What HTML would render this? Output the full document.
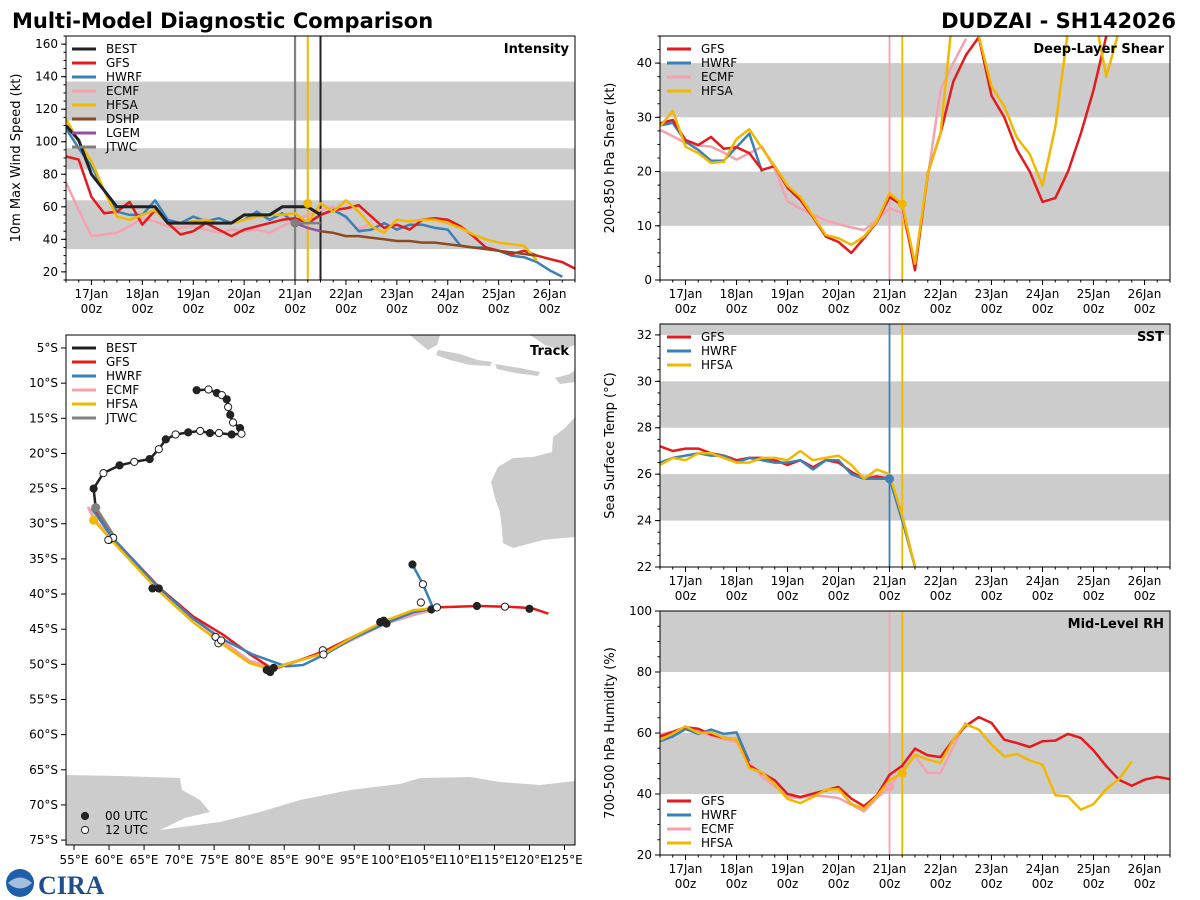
<!DOCTYPE html>
<html><head><meta charset="utf-8">
<style>
html,body{margin:0;padding:0;background:#fff;}
svg{display:block;font-family:"DejaVu Sans","Liberation Sans",sans-serif;}
</style></head>
<body>
<svg id="chart" width="1200" height="900" viewBox="0 0 1200 900" xmlns="http://www.w3.org/2000/svg">
<rect width="1200" height="900" fill="#fff"/>
<text x="12" y="28" font-size="21" font-weight="bold">Multi-Model Diagnostic Comparison</text>
<text x="1176" y="28" font-size="21" font-weight="bold" text-anchor="end">DUDZAI - SH142026</text>
<g>
<circle cx="20" cy="883" r="14" fill="#1d5fa8"/>
<path d="M8 883 Q20 872 32 883 Q20 894 8 883Z" fill="#fff" opacity="0.6"/>
<text x="38" y="894" font-size="26" font-weight="bold" fill="#1f4e8c" font-family="Liberation Serif, serif">CIRA</text>
</g>
<g id="root"></g>
</svg>
<script>
// ---------- data ----------
const intensityBEST = [110,101,80,70,60,60,60,60,50,50,50,50,50,50,55,55,55,60,60,60,55];
const intensityGFS = [91,89,66,56,57,63,49,58,50,43,45,50,46,42,46,48,50,52,53,50,55,58,59,61,54,47,49,46,52,53,52,48,42,35,33,31,33,30,28,26,22];
const intensityHWRF = [108,96,85,70,57,55,55,64,52,50,54,51,53,50,52,57,52,56,50,50,55,58,54,45,46,50,46,49,49,47,46,36,35,35,33,30,29,26,21,17];
const intensityECMF = [75,58,42,43,44,48,53,51,48,47,48,46,44,46,45,46,44,48,52,55,58,60,53,46,50];
const intensityHFSA = [114,100,88,70,54,52,55,58,50,50,51,52,50,50,52,54,55,55,56,50,62,57,64,57,48,44,52,51,52,52,50,47,43,40,38,37,36,27];
const intensityDSHP = [45,44,42,42,41,40,39,39,38,38,37,36,35,34,33,32,31,30];
const intensityLGEM = [50,47,45];
const intensityJTWC = [50,50,50];
const shearGFS = [28.9,29.5,25.8,24.9,26.4,24.2,24.5,23.4,20.3,21,17,14.8,11.6,8,7,5,7.7,10.7,15.3,13.8,1.8,19.7,27,36.6,41.5,44.8,34,30,24,20,14.4,15.1,20,27,35,45,52,58,62,65,66];
const shearHWRF = [28.5,29,25.5,24,22,22,24.5,27,20];
const shearECMF = [27.7,26.5,25.3,24.8,24.6,23.5,22.2,23.4,24.6,20.4,14.5,13.2,12,11,10.3,9.7,9.2,11,13.2,12.3,3,19,35,40,44.5];
const shearHFSA = [28.3,31.2,24.6,23.4,21.6,21.8,26,27.8,24.3,21,17.4,15.3,11.8,8.3,7.7,6.5,8,10.8,16,14,3,19.7,27,50,55,45,35.7,32,26.2,23.2,17.4,28.2,46,55,50,37.5,46,52];
const sstGFS = [27.2,27.0,27.1,27.1,26.9,26.8,26.6,26.7,26.7,26.6,26.4,26.6,26.3,26.6,26.5,26.1,25.8,25.9,25.8];
const sstHWRF = [26.5,26.7,26.8,26.9,26.8,26.8,26.5,26.7,26.6,26.5,26.5,26.6,26.2,26.6,26.6,26.0,25.8,25.8,25.8,24.0,22.0];
const sstHFSA = [26.4,26.7,26.6,26.9,26.9,26.7,26.5,26.5,26.7,26.7,26.6,27.0,26.6,26.7,26.8,26.4,25.8,26.2,26.0,24.2,22.0,21.0];
const rhGFS = [58.9,60.3,61.9,61.4,59.5,58.4,58,49.3,46.9,44.5,40,39,40.1,41.2,42.3,38.5,36,39.5,46.3,49.3,54.9,52.7,52.1,57.8,62.4,65.2,63.3,57.8,56.7,55.4,57.3,57.5,59.7,58.4,54.3,49.1,44.7,42.7,44.7,45.6,44.9];
const rhHWRF = [57.3,58.9,61.3,59.7,61.1,59.7,60.2,50.7];
const rhECMF = [59.5,60.5,61.9,60.5,59.2,58,57,50.4,45.6,42.5,39,38.7,39.5,39.2,38.7,36.5,34.3,38.7,42.3,48,52.5,46.9,46.9,55.6,63.5];
const rhHFSA = [57.8,59.8,62.2,60,60.2,58.4,58,48.5,47.1,43.1,38.4,37,39,41.4,41.6,36.8,35.1,39.2,44.5,46.9,52.9,51.3,50.2,57.8,62.9,61.1,56.2,52.3,53.1,51,49.6,39.6,39.2,34.9,36.7,41.6,44.9,50.7];
const dayLabels = ["17Jan","18Jan","19Jan","20Jan","21Jan","22Jan","23Jan","24Jan","25Jan","26Jan"];
const trackBESTlon = [72.5,74.2,75.4,76.1,76.8,77.0,77.3,77.7,78.7,78.9,77.5,75.7,74.4,73.0,71.3,69.5,68.1,67.1,65.8,63.6,61.5,59.2,57.8,58.1];
const trackBESTlat = [11.0,10.9,11.4,11.7,12.3,13.4,14.5,15.6,16.4,17.2,17.3,17.1,17.1,16.8,17.0,17.3,18.0,19.4,20.8,21.2,21.7,22.8,25.0,27.7];
const trackJTWClon = [58.1,60.6];
const trackJTWClat = [27.7,31.6];
const trackGFSlon = [58,60.5,67.3,72,76.3,80,83.4,87,91,95,99.4,103.4,106.7,112.7,116.7,120.3,122.7];
const trackGFSlat = [28.2,32,39.2,43.2,45.8,48.5,50.7,49.5,48.0,46,44.0,42.5,41.9,41.7,41.8,42.0,42.8];
const trackHWRFlon = [57.5,60.5,67,72,76,80.5,85.3,87.7,91,95,99.4,103.4,106.3,104.8,103.3];
const trackHWRFlat = [27.8,32,39,43.5,46.3,48.6,50.3,50.1,48.5,46.2,44.2,42.6,42.1,38.6,35.8];
const trackECMFlon = [57,58,60.5,67,72,76,80,83.4,91,99.4,104,106];
const trackECMFlat = [27.6,29.5,32.3,39.3,43.5,46.5,49.5,50.5,48.3,44.2,42.8,42.3];
const trackHFSAlon = [57.8,60.5,67,72,76,80,83,87,91,95,99.4,103.4,106.5];
const trackHFSAlat = [29.5,32.5,39.5,44,47,49.8,50.7,49.5,48.3,46,43.8,42.3,42.0];
const fcstMarkLon = [60,60.6,59.9,66.2,67.1,75.2,75.6,76.0,82.5,83.0,83.5,90.5,90.6,98.7,99.2,99.6,106.0,106.8,112.5,116.5,120.0,104.8,103.3,104.5];
const fcstMarkLat = [32.3,32.0,32.3,39.2,39.2,46.1,47.0,46.6,50.8,51.1,50.5,48.0,48.6,44.0,43.8,44.2,42.2,41.9,41.7,41.8,42.1,38.6,35.8,41.2];
const fcstMarkFilled = [0,0,0,1,1,0,0,0,1,1,1,0,0,1,1,1,1,0,1,0,1,0,1,0];
const C = {BEST:"#222222",GFS:"#e41a1c",HWRF:"#3a80b9",ECMF:"#f4a3ae",HFSA:"#f1b800",DSHP:"#8b4a22",LGEM:"#954ea0",JTWC:"#808080"};

// ---------- helpers ----------
const NS="http://www.w3.org/2000/svg";
const root=document.getElementById('root');
function mk(parent,tag,attrs,name,inter){
  const el=document.createElementNS(NS,tag);
  for(const k in attrs) el.setAttribute(k,attrs[k]);
  
  
  parent.appendChild(el);
  return el;
}
function txt(parent,x,y,s,name,opt){
  const t=mk(parent,'text',Object.assign({x:x,y:y,'font-size':12},opt||{}),name,false);
  t.textContent=s;return t;
}
const T0=16.5,T1=26.5;
function makePanel(id,P){
  P.g=mk(root,'g',{},id,false);
  const cp=mk(P.g,'clipPath',{id:'clip-'+id},id+'-clip',false);
  mk(cp,'rect',{x:P.x0,y:P.y0,width:P.x1-P.x0,height:P.y1-P.y0},id+'-clip-rect',false);
  P.tx=t=>P.x0+(t-T0)*(P.x1-P.x0)/(T1-T0);
  P.vy=v=>P.y1-(v-P.vmin)*(P.y1-P.y0)/(P.vmax-P.vmin);
  P.c=mk(P.g,'g',{'clip-path':'url(#clip-'+id+')'},id+'-plot-area',false);
  return P;
}
function bands(P,list){
  list.forEach(b=>{
    mk(P.c,'rect',{x:P.x0,y:P.vy(b[1]),width:P.x1-P.x0,height:P.vy(b[0])-P.vy(b[1]),fill:'#cccccc'},'threshold-band',false);
  });
}
function series(P,vals,color,name,w){
  const pts=vals.map((v,i)=>P.tx(T0+i*0.25).toFixed(1)+','+P.vy(v).toFixed(1)).join(' ');
  mk(P.c,'polyline',{points:pts,fill:'none',stroke:color,'stroke-width':w||2.5,'stroke-linejoin':'round'},name,false);
}
function seriesAt(P,vals,start,color,name){
  const pts=vals.map((v,i)=>P.tx(start+i*0.25).toFixed(1)+','+P.vy(v).toFixed(1)).join(' ');
  mk(P.c,'polyline',{points:pts,fill:'none',stroke:color,'stroke-width':2.5},name,false);
}
function vline(P,t,color,name,w){
  mk(P.c,'line',{x1:P.tx(t),x2:P.tx(t),y1:P.y0,y2:P.y1,stroke:color,'stroke-width':w||1.8},name,false);
}
function dot(P,t,v,color,name){
  mk(P.c,'circle',{cx:P.tx(t),cy:P.vy(v),r:4.5,fill:color},name,false);
}
function frameAxes(P,yticks,minorStep,ylabel,title,timeLabels){
  mk(P.g,'rect',{x:P.x0,y:P.y0,width:P.x1-P.x0,height:P.y1-P.y0,fill:'none',stroke:'#000','stroke-width':1},'plot-frame',false);
  yticks.forEach(v=>{
    const y=P.vy(v);
    mk(P.g,'line',{x1:P.x0-5,x2:P.x0,y1:y,y2:y,stroke:'#000'},'y-tick',false);
    txt(P.g,P.x0-8,y+4,String(v),'y-tick-label',{'text-anchor':'end'});
  });
  for(let v=Math.ceil(P.vmin/minorStep)*minorStep;v<=P.vmax;v+=minorStep){
    const y=P.vy(v);
    mk(P.g,'line',{x1:P.x0-2.5,x2:P.x0,y1:y,y2:y,stroke:'#000'},'y-minor-tick',false);
  }
  for(let t=T0;t<=T1+0.01;t+=0.25){
    const x=P.tx(t);const major=Math.abs(t-Math.round(t))<0.01;
    mk(P.g,'line',{x1:x,x2:x,y1:P.y1,y2:P.y1+(major?5:2.5),stroke:'#000'},major?'x-tick':'x-minor-tick',false);
  }
  if(timeLabels){
    dayLabels.forEach((d,i)=>{
      const x=P.tx(17+i);
      txt(P.g,x,P.y1+18,d,'x-tick-label-day',{'text-anchor':'middle'});
      txt(P.g,x,P.y1+33,'00z','x-tick-label-hour',{'text-anchor':'middle'});
    });
  }
  const cy=(P.y0+P.y1)/2, lx=P.x0-46;
  txt(P.g,lx,cy,ylabel,'y-axis-title',{'text-anchor':'middle','font-size':13,transform:'rotate(-90 '+lx+' '+cy+')'});
  txt(P.g,P.x1-6,P.y0+17,title,'panel-title',{'text-anchor':'end','font-size':13,'font-weight':'bold'});
}
function legend(P,items,x,y){
  const g=mk(P.g,'g',{},'legend',false);
  items.forEach((it,i)=>{
    const yy=y+i*14;
    mk(g,'line',{x1:x,x2:x+24,y1:yy,y2:yy,stroke:C[it],'stroke-width':3},'legend-swatch-'+it.toLowerCase(),false);
    txt(g,x+34,yy+4,it,'legend-entry-'+it.toLowerCase(),{});
  });
}

// ---------- Intensity ----------
const P1=makePanel('intensity-panel',{x0:66,x1:575,y0:36,y1:280,vmin:15,vmax:165});
bands(P1,[[34,64],[83,96],[113,137]]);
vline(P1,21.0,'#808080','jtwc-init-line',2.2);
vline(P1,21.25,C.HFSA,'hfsa-init-line',2);
vline(P1,21.5,'#222','best-latest-line',2);
series(P1,intensityECMF,C.ECMF,'ecmf-intensity-line');
series(P1,intensityHWRF,C.HWRF,'hwrf-intensity-line');
series(P1,intensityGFS,C.GFS,'gfs-intensity-line');
series(P1,intensityHFSA,C.HFSA,'hfsa-intensity-line');
seriesAt(P1,intensityDSHP,21.5,C.DSHP,'dshp-intensity-line');
seriesAt(P1,intensityLGEM,21.0,C.LGEM,'lgem-intensity-line');
seriesAt(P1,intensityJTWC,21.0,C.JTWC,'jtwc-intensity-line');
series(P1,intensityBEST,C.BEST,'best-intensity-line',3);
dot(P1,21.25,intensityHFSA[19]+12,C.HFSA,'hfsa-init-dot');
dot(P1,21.0,intensityJTWC[0],C.JTWC,'jtwc-init-dot');
frameAxes(P1,[20,40,60,80,100,120,140,160],5,'10m Max Wind Speed (kt)','Intensity',true);
legend(P1,['BEST','GFS','HWRF','ECMF','HFSA','DSHP','LGEM','JTWC'],72,49);

// ---------- Shear ----------
const P2=makePanel('shear-panel',{x0:660,x1:1170,y0:36,y1:280,vmin:0,vmax:45});
bands(P2,[[10,20],[30,40]]);
vline(P2,21.0,C.ECMF,'ecmf-init-line');
vline(P2,21.25,C.HFSA,'hfsa-init-line');
series(P2,shearECMF,C.ECMF,'ecmf-shear-line');
series(P2,shearHWRF,C.HWRF,'hwrf-shear-line');
series(P2,shearGFS,C.GFS,'gfs-shear-line');
series(P2,shearHFSA,C.HFSA,'hfsa-shear-line');
dot(P2,21.25,shearHFSA[19],C.HFSA,'hfsa-init-dot');
frameAxes(P2,[0,10,20,30,40],2.5,'200-850 hPa Shear (kt)','Deep-Layer Shear',true);
legend(P2,['GFS','HWRF','ECMF','HFSA'],667,49);

// ---------- SST ----------
const P3=makePanel('sst-panel',{x0:660,x1:1170,y0:324,y1:567,vmin:22,vmax:32.47});
bands(P3,[[24,26],[28,30],[32,34]]);
vline(P3,21.0,C.HWRF,'hwrf-init-line');
vline(P3,21.25,C.HFSA,'hfsa-init-line');
series(P3,sstGFS,C.GFS,'gfs-sst-line');
series(P3,sstHWRF,C.HWRF,'hwrf-sst-line');
series(P3,sstHFSA,C.HFSA,'hfsa-sst-line');
dot(P3,21.0,sstHWRF[18],C.HWRF,'hwrf-init-dot');
frameAxes(P3,[22,24,26,28,30,32],0.5,'Sea Surface Temp (°C)','SST',true);
legend(P3,['GFS','HWRF','HFSA'],667,337);

// ---------- RH ----------
const P4=makePanel('rh-panel',{x0:660,x1:1170,y0:611,y1:855,vmin:20,vmax:100});
bands(P4,[[40,60],[80,100]]);
vline(P4,21.0,C.ECMF,'ecmf-init-line');
vline(P4,21.25,C.HFSA,'hfsa-init-line');
series(P4,rhECMF,C.ECMF,'ecmf-rh-line');
series(P4,rhHWRF,C.HWRF,'hwrf-rh-line');
series(P4,rhGFS,C.GFS,'gfs-rh-line');
series(P4,rhHFSA,C.HFSA,'hfsa-rh-line');
dot(P4,21.0,rhECMF[18],C.ECMF,'ecmf-init-dot');
dot(P4,21.25,rhHFSA[19],C.HFSA,'hfsa-init-dot');
frameAxes(P4,[20,40,60,80,100],5,'700-500 hPa Humidity (%)','Mid-Level RH',true);
legend(P4,['GFS','HWRF','ECMF','HFSA'],667,801);

// ---------- Track map ----------
const M={x0:66,x1:575,y0:335,y1:845,lon0:53.86,lon1:126.5,lat0:3.15,lat1:75.7};
M.lx=l=>M.x0+(l-M.lon0)*(M.x1-M.x0)/(M.lon1-M.lon0);
M.ly=l=>M.y0+(l-M.lat0)*(M.y1-M.y0)/(M.lat1-M.lat0);
M.g=mk(root,'g',{},'track-panel',false);
const mcp=mk(M.g,'clipPath',{id:'clip-map'},'track-clip',false);
mk(mcp,'rect',{x:M.x0,y:M.y0,width:M.x1-M.x0,height:M.y1-M.y0},'track-clip-rect',false);
M.c=mk(M.g,'g',{'clip-path':'url(#clip-map)'},'map-area',false);
mk(M.c,'polygon',{points:'575,417 565,428 553,437 552,452 533,457 513,458 498,467 491,482 495,498 500,512 502,530 503,543 513,548 543,540 563,538 575,537',fill:'#cccccc'},'australia-landmass',false);
mk(M.c,'polygon',{points:'410,335 440,335 437,345 428,350 418,342',fill:'#cccccc'},'sumatra-landmass',false);
mk(M.c,'polygon',{points:'438,350 460,354 478,360 492,362 490,366 470,365 450,360 436,355',fill:'#cccccc'},'java-landmass',false);
mk(M.c,'polygon',{points:'495,364 520,368 540,372 538,376 515,373 497,369',fill:'#cccccc'},'lesser-sunda-landmass',false);
mk(M.c,'polygon',{points:'530,335 575,335 575,345 560,350 545,345',fill:'#cccccc'},'borneo-landmass',false);
mk(M.c,'polygon',{points:'555,378 570,374 575,370 575,382 560,384',fill:'#cccccc'},'timor-landmass',false);
mk(M.c,'polygon',{points:'66,775 120,776 180,778 182,790 200,800 210,812 185,818 160,830 220,822 260,812 300,800 350,790 400,784 420,778 470,777 500,782 540,785 575,781 575,845 66,845',fill:'#cccccc'},'antarctica-landmass',false);
function track(lons,lats,color,name,w){
  const pts=lons.map((l,i)=>M.lx(l).toFixed(1)+','+M.ly(lats[i]).toFixed(1)).join(' ');
  mk(M.c,'polyline',{points:pts,fill:'none',stroke:color,'stroke-width':w||2.5,'stroke-linejoin':'round'},name,false);
}
track(trackECMFlon,trackECMFlat,C.ECMF,'ecmf-track',3);
track(trackGFSlon,trackGFSlat,C.GFS,'gfs-track');
track(trackHWRFlon,trackHWRFlat,C.HWRF,'hwrf-track');
track(trackHFSAlon,trackHFSAlat,C.HFSA,'hfsa-track');
track(trackJTWClon,trackJTWClat,C.JTWC,'jtwc-track',3);
track(trackBESTlon,trackBESTlat,C.BEST,'best-track',2.5);
trackBESTlon.forEach((l,i)=>{
  const filled=(i%2===0);
  mk(M.c,'circle',{cx:M.lx(l),cy:M.ly(trackBESTlat[i]),r:3.6,fill:filled?'#222':'#fff',stroke:'#222','stroke-width':1},filled?'best-00utc-marker':'best-12utc-marker',false);
});
mk(M.c,'circle',{cx:M.lx(58.1),cy:M.ly(27.7),r:4.5,fill:C.JTWC},'jtwc-init-dot',false);
mk(M.c,'circle',{cx:M.lx(57.8),cy:M.ly(29.5),r:4.5,fill:C.HFSA},'hfsa-init-dot',false);
fcstMarkLon.forEach((l,i)=>{
  const f=fcstMarkFilled[i]===1;
  mk(M.c,'circle',{cx:M.lx(l),cy:M.ly(fcstMarkLat[i]),r:3.6,fill:f?'#222':'#fff',stroke:'#222','stroke-width':1},f?'forecast-00utc-marker':'forecast-12utc-marker',false);
});
mk(M.g,'rect',{x:M.x0,y:M.y0,width:M.x1-M.x0,height:M.y1-M.y0,fill:'none',stroke:'#000'},'track-frame',false);
for(let la=5;la<=75;la+=5){
  const y=M.ly(la);
  mk(M.g,'line',{x1:M.x0-5,x2:M.x0,y1:y,y2:y,stroke:'#000'},'lat-tick',false);
  txt(M.g,M.x0-8,y+4,la+'°S','lat-tick-label',{'text-anchor':'end'});
}
for(let lo=55;lo<=125;lo+=5){
  const x=M.lx(lo);
  mk(M.g,'line',{x1:x,x2:x,y1:M.y1,y2:M.y1+5,stroke:'#000'},'lon-tick',false);
  txt(M.g,x,M.y1+19,lo+'°E','lon-tick-label',{'text-anchor':'middle'});
}
txt(M.g,M.x1-6,M.y0+20,'Track','panel-title',{'text-anchor':'end','font-size':13,'font-weight':'bold'});
legend(M,['BEST','GFS','HWRF','ECMF','HFSA','JTWC'],72,348);
mk(M.g,'circle',{cx:85,cy:816,r:3.6,fill:'#222',stroke:'#222'},'legend-00utc-marker',false);
txt(M.g,105,820,'00 UTC','legend-entry-00utc',{});
mk(M.g,'circle',{cx:85,cy:830,r:3.6,fill:'#fff',stroke:'#222'},'legend-12utc-marker',false);
txt(M.g,105,834,'12 UTC','legend-entry-12utc',{});
</script>
</body></html>
